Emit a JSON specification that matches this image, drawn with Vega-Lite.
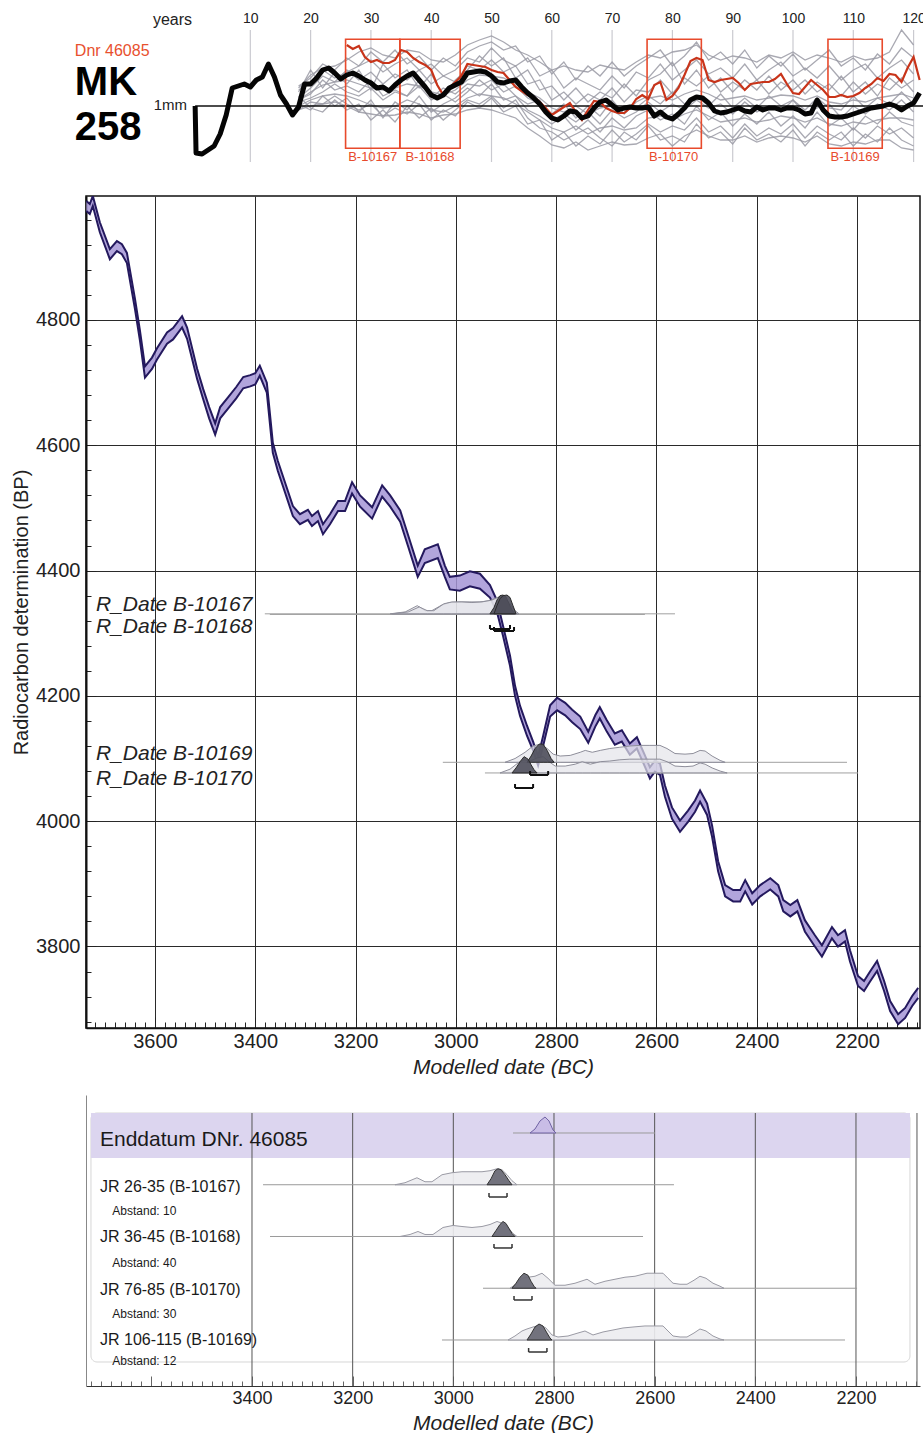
{
"$schema": "https://vega.github.io/schema/vega-lite/v6.json",
"padding": {"left": 10, "top": 11, "right": 0, "bottom": 0},
"spacing": 17,
"background": "white",
"config": {"font": "Liberation Sans", "view": {"stroke": null}},
"datasets": {
"ring": [{"yr":0.85,"b":1.0},
{"yr":1,"b":0.06},{"yr":2,"b":0.04},{"yr":3,"b":0.12},{"yr":4,"b":0.2},{"yr":5,"b":0.44},{"yr":6,"b":0.82},{"yr":7,"b":1.36},{"yr":8,"b":1.4},{"yr":9,"b":1.44},{"yr":10,"b":1.38},{"yr":11,"b":1.52},{"yr":12,"b":1.58},{"yr":13,"b":1.84},{"yr":14,"b":1.58},{"yr":15,"b":1.22},{"yr":16,"b":1.04},{"yr":17,"b":0.82},{"yr":18,"b":0.98},{"yr":19,"b":1.44},{"yr":20,"b":1.44},{"yr":21,"b":1.56},{"yr":22,"b":1.72},{"yr":23,"b":1.76},{"yr":24,"b":1.66},{"yr":25,"b":1.54},
{"yr":26,"b":1.62,"r":2.22},{"yr":27,"b":1.66,"r":2.14},{"yr":28,"b":1.6,"r":2.2},{"yr":29,"b":1.52,"r":1.98},{"yr":30,"b":1.46,"r":1.88},{"yr":31,"b":1.36,"r":1.92},{"yr":32,"b":1.38,"r":1.86},{"yr":33,"b":1.3,"r":1.86},{"yr":34,"b":1.42,"r":1.92},{"yr":35,"b":1.52,"r":2.12},{"yr":36,"b":1.6,"r":2.08},{"yr":37,"b":1.66,"r":1.96},{"yr":38,"b":1.52,"r":1.88},{"yr":39,"b":1.38,"r":1.82},{"yr":40,"b":1.22,"r":1.72},{"yr":41,"b":1.16,"r":1.42},{"yr":42,"b":1.22,"r":1.22},{"yr":43,"b":1.36,"r":1.36},{"yr":44,"b":1.42,"r":1.48},{"yr":45,"b":1.48,"r":1.6},{"yr":46,"b":1.66,"r":1.84},{"yr":47,"b":1.68,"r":1.82},{"yr":48,"b":1.7,"r":1.8},{"yr":49,"b":1.68,"r":1.78},{"yr":50,"b":1.6,"r":1.72},{"yr":51,"b":1.48,"r":1.68},{"yr":52,"b":1.46,"r":1.66},{"yr":53,"b":1.5,"r":1.52},{"yr":54,"b":1.52,"r":1.38},{"yr":55,"b":1.38,"r":1.3},{"yr":56,"b":1.26,"r":1.22},{"yr":57,"b":1.16,"r":1.18},{"yr":58,"b":1.04,"r":1.08},{"yr":59,"b":0.88,"r":0.96},{"yr":60,"b":0.76,"r":0.82},{"yr":61,"b":0.72,"r":0.9},{"yr":62,"b":0.8,"r":0.98},{"yr":63,"b":0.9,"r":1.06},{"yr":64,"b":0.88,"r":0.88},{"yr":65,"b":0.76,"r":0.72},{"yr":66,"b":0.8,"r":0.92},{"yr":67,"b":0.96,"r":1.1},{"yr":68,"b":1.08,"r":1.08},{"yr":69,"b":1.12,"r":0.96},{"yr":70,"b":1.02,"r":0.9},{"yr":71,"b":0.92,"r":0.86},{"yr":72,"b":0.96,"r":0.86},{"yr":73,"b":0.98,"r":0.96},{"yr":74,"b":0.96,"r":1.14},{"yr":75,"b":0.96,"r":1.22},{"yr":76,"b":0.98,"r":1.14},{"yr":77,"b":0.8,"r":1.42},{"yr":78,"b":0.88,"r":1.48},{"yr":79,"b":0.78,"r":1.12},{"yr":80,"b":0.74,"r":1.2},{"yr":81,"b":0.84,"r":1.36},{"yr":82,"b":0.96,"r":1.62},{"yr":83,"b":1.12,"r":1.9},{"yr":84,"b":1.18,"r":1.96},{"yr":85,"b":1.16,"r":1.92},{"yr":86,"b":1.06,"r":1.52},{"yr":87,"b":0.9,"r":1.48},{"yr":88,"b":0.86,"r":1.52},{"yr":89,"b":0.88,"r":1.54},{"yr":90,"b":0.92,"r":1.56},{"yr":91,"b":0.96,"r":1.46},{"yr":92,"b":0.9,"r":1.32},{"yr":93,"b":0.88,"r":1.44},{"yr":94,"b":0.98,"r":1.46},{"yr":95,"b":0.92,"r":1.48},{"yr":96,"b":0.96,"r":1.48},{"yr":97,"b":0.96,"r":1.54},{"yr":98,"b":0.92,"r":1.64},{"yr":99,"b":0.96,"r":1.44},{"yr":100,"b":0.96,"r":1.26},{"yr":101,"b":0.92,"r":1.24},{"yr":102,"b":0.84,"r":1.38},{"yr":103,"b":0.86,"r":1.52},{"yr":104,"b":1.12,"r":1.42},{"yr":105,"b":0.92,"r":1.32},{"yr":106,"b":0.8,"r":1.18},{"yr":107,"b":0.78,"r":1.18},{"yr":108,"b":0.78,"r":1.22},{"yr":109,"b":0.8,"r":1.18},{"yr":110,"b":0.84,"r":1.2},{"yr":111,"b":0.88,"r":1.26},{"yr":112,"b":0.92,"r":1.36},{"yr":113,"b":0.96,"r":1.44},{"yr":114,"b":0.98,"r":1.56},{"yr":115,"b":1.0,"r":1.5},{"yr":116,"b":1.04,"r":1.64},{"yr":117,"b":1.0,"r":1.62},{"yr":118,"b":0.92,"r":1.48},{"yr":119,"b":1.0,"r":1.76},{"yr":120,"b":1.06,"r":1.98},{"yr":121,"b":1.26,"r":1.52}],
"gray": [
{"yr":18,"g1":1.36,"g2":1.32,"g3":1.16,"g4":1.12,"g5":1.08,"g6":1.0,"g7":0.92,"g8":0.92,"g9":1.28,"g10":1.04,"g11":1.2,"g12":1.4,"g13":1.12},
{"yr":20,"g1":1.62,"g2":1.44,"g3":1.36,"g4":1.28,"g5":1.16,"g6":1.12,"g7":1.08,"g8":1.0,"g9":1.72,"g10":0.92,"g11":0.96,"g12":1.56,"g13":1.24},
{"yr":22,"g1":1.76,"g2":1.72,"g3":1.6,"g4":1.42,"g5":1.28,"g6":1.2,"g7":1.04,"g8":1.04,"g9":1.36,"g10":1.2,"g11":0.88,"g12":1.84,"g13":1.52},
{"yr":24,"g1":1.8,"g2":1.56,"g3":1.48,"g4":1.48,"g5":1.44,"g6":1.24,"g7":1.2,"g8":1.08,"g9":1.68,"g10":1.0,"g11":1.12,"g12":1.72,"g13":1.32},
{"yr":26,"g1":1.92,"g2":1.68,"g3":1.72,"g4":1.52,"g5":1.28,"g6":1.2,"g7":1.04,"g8":1.0,"g9":1.44,"g10":1.16,"g11":0.92,"g12":1.96,"g13":1.4},
{"yr":28,"g1":2.08,"g2":1.8,"g3":1.52,"g4":1.44,"g5":1.2,"g6":1.12,"g7":0.92,"g8":0.88,"g9":1.72,"g10":0.88,"g11":1.04,"g12":1.8,"g13":1.28},
{"yr":30,"g1":2.16,"g2":1.92,"g3":1.68,"g4":1.36,"g5":1.36,"g6":1.02,"g7":1.04,"g8":0.84,"g9":1.32,"g10":1.12,"g11":0.72,"g12":2.08,"g13":1.52},
{"yr":32,"g1":2.02,"g2":1.68,"g3":1.44,"g4":1.32,"g5":1.12,"g6":0.96,"g7":0.8,"g8":0.8,"g9":1.84,"g10":0.76,"g11":0.92,"g12":1.88,"g13":1.2},
{"yr":34,"g1":1.96,"g2":1.84,"g3":1.64,"g4":1.36,"g5":1.28,"g6":1.0,"g7":0.96,"g8":0.82,"g9":1.56,"g10":1.08,"g11":0.68,"g12":2.12,"g13":1.32},
{"yr":36,"g1":2.12,"g2":1.96,"g3":1.52,"g4":1.44,"g5":1.2,"g6":1.12,"g7":0.84,"g8":0.88,"g9":1.72,"g10":0.92,"g11":1.0,"g12":1.84,"g13":1.2},
{"yr":38,"g1":2.08,"g2":1.72,"g3":1.72,"g4":1.4,"g5":1.4,"g6":1.04,"g7":1.04,"g8":0.84,"g9":1.36,"g10":1.2,"g11":0.76,"g12":2.0,"g13":1.52},
{"yr":40,"g1":1.92,"g2":1.84,"g3":1.44,"g4":1.28,"g5":1.12,"g6":0.92,"g7":0.72,"g8":0.76,"g9":1.64,"g10":0.88,"g11":0.96,"g12":1.72,"g13":1.16},
{"yr":42,"g1":1.88,"g2":1.6,"g3":1.6,"g4":1.22,"g5":1.24,"g6":0.88,"g7":0.92,"g8":0.82,"g9":1.2,"g10":1.04,"g11":0.72,"g12":1.96,"g13":1.36},
{"yr":44,"g1":2.02,"g2":1.72,"g3":1.48,"g4":1.32,"g5":1.08,"g6":1.0,"g7":0.8,"g8":0.84,"g9":1.52,"g10":1.16,"g11":0.92,"g12":1.8,"g13":1.24},
{"yr":46,"g1":2.22,"g2":1.96,"g3":1.8,"g4":1.52,"g5":1.28,"g6":1.16,"g7":1.08,"g8":0.92,"g9":1.72,"g10":1.36,"g11":1.12,"g12":2.08,"g13":1.44},
{"yr":48,"g1":2.32,"g2":1.88,"g3":1.72,"g4":1.62,"g5":1.52,"g6":1.24,"g7":0.96,"g8":0.96,"g9":2.0,"g10":1.2,"g11":1.04,"g12":2.2,"g13":1.4},
{"yr":50,"g1":2.4,"g2":2.16,"g3":1.92,"g4":1.6,"g5":1.32,"g6":1.2,"g7":1.16,"g8":0.92,"g9":1.8,"g10":1.44,"g11":1.2,"g12":2.28,"g13":1.52},
{"yr":52,"g1":2.28,"g2":1.92,"g3":1.68,"g4":1.56,"g5":1.44,"g6":1.16,"g7":0.88,"g8":0.84,"g9":1.96,"g10":1.12,"g11":0.96,"g12":2.12,"g13":1.28},
{"yr":54,"g1":2.12,"g2":1.8,"g3":1.8,"g4":1.44,"g5":1.2,"g6":1.04,"g7":1.0,"g8":0.76,"g9":1.56,"g10":1.2,"g11":1.12,"g12":2.2,"g13":1.4},
{"yr":56,"g1":2.02,"g2":1.96,"g3":1.44,"g4":1.28,"g5":1.04,"g6":0.88,"g7":0.64,"g8":0.56,"g9":1.72,"g10":0.92,"g11":0.76,"g12":1.88,"g13":1.16},
{"yr":58,"g1":1.88,"g2":1.6,"g3":1.52,"g4":1.16,"g5":1.12,"g6":0.72,"g7":0.72,"g8":0.4,"g9":1.32,"g10":0.8,"g11":0.56,"g12":2.0,"g13":1.04},
{"yr":60,"g1":1.72,"g2":1.72,"g3":1.12,"g4":0.96,"g5":0.72,"g6":0.56,"g7":0.32,"g8":0.22,"g9":1.4,"g10":0.64,"g11":0.48,"g12":1.64,"g13":0.84},
{"yr":62,"g1":1.8,"g2":1.36,"g3":1.28,"g4":0.88,"g5":0.84,"g6":0.48,"g7":0.48,"g8":0.16,"g9":1.12,"g10":0.8,"g11":0.32,"g12":1.88,"g13":1.04},
{"yr":64,"g1":1.72,"g2":1.56,"g3":1.04,"g4":1.0,"g5":0.68,"g6":0.6,"g7":0.2,"g8":0.28,"g9":1.36,"g10":0.52,"g11":0.44,"g12":1.52,"g13":0.76},
{"yr":66,"g1":1.68,"g2":1.44,"g3":1.24,"g4":0.84,"g5":0.88,"g6":0.44,"g7":0.4,"g8":0.12,"g9":1.08,"g10":0.72,"g11":0.56,"g12":1.8,"g13":1.0},
{"yr":68,"g1":1.82,"g2":1.32,"g3":1.12,"g4":0.96,"g5":0.64,"g6":0.56,"g7":0.24,"g8":0.2,"g9":1.28,"g10":0.48,"g11":0.36,"g12":1.6,"g13":0.8},
{"yr":70,"g1":1.76,"g2":1.6,"g3":1.36,"g4":1.0,"g5":0.92,"g6":0.6,"g7":0.52,"g8":0.28,"g9":1.16,"g10":0.76,"g11":0.2,"g12":1.88,"g13":1.12},
{"yr":72,"g1":1.72,"g2":1.36,"g3":1.08,"g4":0.92,"g5":0.76,"g6":0.52,"g7":0.28,"g8":0.22,"g9":1.44,"g10":0.56,"g11":0.48,"g12":1.6,"g13":0.84},
{"yr":74,"g1":1.88,"g2":1.68,"g3":1.32,"g4":0.96,"g5":0.88,"g6":0.56,"g7":0.44,"g8":0.24,"g9":1.2,"g10":0.8,"g11":0.32,"g12":1.8,"g13":1.08},
{"yr":76,"g1":2.02,"g2":1.56,"g3":1.28,"g4":1.16,"g5":1.08,"g6":0.76,"g7":0.64,"g8":0.36,"g9":1.52,"g10":0.92,"g11":0.6,"g12":1.96,"g13":1.2},
{"yr":78,"g1":1.96,"g2":1.84,"g3":1.52,"g4":1.2,"g5":0.88,"g6":0.8,"g7":0.48,"g8":0.44,"g9":1.64,"g10":0.72,"g11":0.32,"g12":2.12,"g13":1.04},
{"yr":80,"g1":2.08,"g2":1.52,"g3":1.24,"g4":1.12,"g5":1.04,"g6":0.72,"g7":0.6,"g8":0.2,"g9":1.88,"g10":0.84,"g11":0.4,"g12":1.8,"g13":1.28},
{"yr":82,"g1":2.12,"g2":1.72,"g3":1.56,"g4":1.24,"g5":0.92,"g6":0.84,"g7":0.52,"g8":0.4,"g9":1.44,"g10":0.64,"g11":0.28,"g12":2.0,"g13":1.04},
{"yr":84,"g1":2.22,"g2":1.92,"g3":1.4,"g4":1.32,"g5":1.12,"g6":0.92,"g7":0.76,"g8":0.52,"g9":1.72,"g10":1.0,"g11":0.64,"g12":2.28,"g13":1.2},
{"yr":86,"g1":2.02,"g2":1.64,"g3":1.6,"g4":1.24,"g5":0.96,"g6":0.8,"g7":0.48,"g8":0.4,"g9":1.36,"g10":0.72,"g11":0.36,"g12":1.92,"g13":1.0},
{"yr":88,"g1":1.92,"g2":1.76,"g3":1.28,"g4":1.12,"g5":1.04,"g6":0.68,"g7":0.6,"g8":0.32,"g9":1.56,"g10":0.88,"g11":0.48,"g12":2.08,"g13":1.24},
{"yr":90,"g1":2.0,"g2":1.56,"g3":1.48,"g4":1.16,"g5":0.84,"g6":0.72,"g7":0.36,"g8":0.32,"g9":1.28,"g10":0.6,"g11":0.24,"g12":1.84,"g13":0.96},
{"yr":92,"g1":1.96,"g2":1.84,"g3":1.32,"g4":1.2,"g5":1.08,"g6":0.76,"g7":0.64,"g8":0.4,"g9":1.52,"g10":0.84,"g11":0.56,"g12":2.12,"g13":1.16},
{"yr":94,"g1":1.88,"g2":1.52,"g3":1.52,"g4":1.12,"g5":0.88,"g6":0.68,"g7":0.4,"g8":0.28,"g9":1.32,"g10":0.64,"g11":0.32,"g12":1.76,"g13":0.96},
{"yr":96,"g1":2.02,"g2":1.72,"g3":1.24,"g4":1.16,"g5":1.0,"g6":0.72,"g7":0.56,"g8":0.36,"g9":1.6,"g10":0.88,"g11":0.44,"g12":2.0,"g13":1.2},
{"yr":98,"g1":1.96,"g2":1.88,"g3":1.48,"g4":1.22,"g5":0.88,"g6":0.8,"g7":0.44,"g8":0.4,"g9":1.32,"g10":0.6,"g11":0.28,"g12":1.8,"g13":1.0},
{"yr":100,"g1":2.08,"g2":1.6,"g3":1.32,"g4":1.2,"g5":1.12,"g6":0.76,"g7":0.64,"g8":0.36,"g9":1.52,"g10":0.8,"g11":0.52,"g12":2.04,"g13":1.12},
{"yr":102,"g1":1.92,"g2":1.76,"g3":1.52,"g4":1.12,"g5":0.84,"g6":0.68,"g7":0.36,"g8":0.28,"g9":1.24,"g10":0.56,"g11":0.2,"g12":1.72,"g13":0.92},
{"yr":104,"g1":2.02,"g2":1.56,"g3":1.28,"g4":1.2,"g5":0.96,"g6":0.76,"g7":0.6,"g8":0.4,"g9":1.48,"g10":0.88,"g11":0.48,"g12":1.92,"g13":1.16},
{"yr":106,"g1":1.96,"g2":1.8,"g3":1.44,"g4":1.08,"g5":1.04,"g6":0.64,"g7":0.44,"g8":0.24,"g9":1.32,"g10":0.6,"g11":0.32,"g12":2.12,"g13":0.96},
{"yr":108,"g1":1.88,"g2":1.52,"g3":1.2,"g4":1.04,"g5":0.76,"g6":0.6,"g7":0.32,"g8":0.2,"g9":1.6,"g10":0.76,"g11":0.48,"g12":1.8,"g13":0.92},
{"yr":110,"g1":2.0,"g2":1.72,"g3":1.48,"g4":1.12,"g5":1.0,"g6":0.68,"g7":0.56,"g8":0.28,"g9":1.28,"g10":0.52,"g11":0.2,"g12":1.96,"g13":1.2},
{"yr":112,"g1":1.92,"g2":1.84,"g3":1.24,"g4":1.08,"g5":0.84,"g6":0.64,"g7":0.36,"g8":0.24,"g9":1.48,"g10":0.8,"g11":0.44,"g12":1.72,"g13":0.96},
{"yr":114,"g1":1.96,"g2":1.56,"g3":1.44,"g4":1.16,"g5":1.04,"g6":0.72,"g7":0.6,"g8":0.32,"g9":1.2,"g10":0.64,"g11":0.28,"g12":2.04,"g13":1.16},
{"yr":116,"g1":2.08,"g2":1.76,"g3":1.32,"g4":1.2,"g5":0.92,"g6":0.76,"g7":0.44,"g8":0.32,"g9":1.56,"g10":0.88,"g11":0.56,"g12":1.84,"g13":1.04},
{"yr":118,"g1":2.52,"g2":1.92,"g3":1.56,"g4":1.24,"g5":1.12,"g6":0.76,"g7":0.56,"g8":0.16,"g9":1.36,"g10":0.68,"g11":0.32,"g12":2.16,"g13":1.28},
{"yr":120,"g1":2.22,"g2":1.64,"g3":1.28,"g4":1.16,"g5":0.88,"g6":0.72,"g7":0.36,"g8":0.12,"g9":1.52,"g10":0.6,"g11":0.2,"g12":1.96,"g13":1.04}],
"band": [
{"yr":3737,"lo":4974,"hi":4990},{"yr":3730,"lo":4969,"hi":4985},{"yr":3724,"lo":4982,"hi":4998},{"yr":3710,"lo":4940,"hi":4956},{"yr":3690,"lo":4897,"hi":4913},{"yr":3676,"lo":4910,"hi":4926},{"yr":3666,"lo":4905,"hi":4921},{"yr":3656,"lo":4891,"hi":4907},{"yr":3640,"lo":4818,"hi":4834},{"yr":3630,"lo":4767,"hi":4783},{"yr":3620,"lo":4708,"hi":4726},{"yr":3606,"lo":4722,"hi":4740},{"yr":3596,"lo":4737,"hi":4755},{"yr":3576,"lo":4762,"hi":4780},{"yr":3564,"lo":4769,"hi":4787},{"yr":3546,"lo":4788,"hi":4806},{"yr":3536,"lo":4770,"hi":4788},{"yr":3516,"lo":4706,"hi":4722},{"yr":3504,"lo":4674,"hi":4690},{"yr":3492,"lo":4643,"hi":4661},{"yr":3480,"lo":4617,"hi":4635},{"yr":3470,"lo":4643,"hi":4661},{"yr":3454,"lo":4659,"hi":4677},{"yr":3438,"lo":4675,"hi":4693},{"yr":3424,"lo":4691,"hi":4709},{"yr":3410,"lo":4694,"hi":4712},{"yr":3400,"lo":4697,"hi":4715},{"yr":3391,"lo":4711,"hi":4727},{"yr":3377,"lo":4684,"hi":4700},{"yr":3365,"lo":4588,"hi":4604},{"yr":3355,"lo":4559,"hi":4575},{"yr":3345,"lo":4535,"hi":4551},{"yr":3325,"lo":4487,"hi":4503},{"yr":3311,"lo":4474,"hi":4490},{"yr":3295,"lo":4481,"hi":4497},{"yr":3287,"lo":4471,"hi":4487},{"yr":3275,"lo":4479,"hi":4495},{"yr":3265,"lo":4458,"hi":4474},{"yr":3251,"lo":4474,"hi":4490},{"yr":3235,"lo":4495,"hi":4511},{"yr":3221,"lo":4495,"hi":4511},{"yr":3207,"lo":4523,"hi":4541},{"yr":3191,"lo":4502,"hi":4520},{"yr":3167,"lo":4483,"hi":4501},{"yr":3147,"lo":4518,"hi":4536},{"yr":3131,"lo":4502,"hi":4520},{"yr":3111,"lo":4478,"hi":4496},{"yr":3095,"lo":4438,"hi":4456},{"yr":3076,"lo":4390,"hi":4408},{"yr":3062,"lo":4412,"hi":4434},{"yr":3036,"lo":4420,"hi":4442},{"yr":3022,"lo":4390,"hi":4408},{"yr":3012,"lo":4370,"hi":4390},{"yr":2992,"lo":4368,"hi":4392},{"yr":2972,"lo":4375,"hi":4399},{"yr":2952,"lo":4371,"hi":4395},{"yr":2932,"lo":4357,"hi":4377},{"yr":2918,"lo":4334,"hi":4352},{"yr":2906,"lo":4296,"hi":4312},{"yr":2892,"lo":4248,"hi":4264},{"yr":2882,"lo":4200,"hi":4216},{"yr":2872,"lo":4168,"hi":4184},{"yr":2858,"lo":4136,"hi":4152},{"yr":2846,"lo":4113,"hi":4127},{"yr":2836,"lo":4089,"hi":4103},{"yr":2826,"lo":4120,"hi":4136},{"yr":2812,"lo":4167,"hi":4185},{"yr":2798,"lo":4177,"hi":4197},{"yr":2782,"lo":4169,"hi":4189},{"yr":2768,"lo":4158,"hi":4178},{"yr":2752,"lo":4147,"hi":4167},{"yr":2736,"lo":4125,"hi":4143},{"yr":2722,"lo":4151,"hi":4169},{"yr":2713,"lo":4164,"hi":4182},{"yr":2699,"lo":4143,"hi":4161},{"yr":2683,"lo":4122,"hi":4140},{"yr":2669,"lo":4127,"hi":4145},{"yr":2653,"lo":4106,"hi":4124},{"yr":2639,"lo":4116,"hi":4134},{"yr":2623,"lo":4087,"hi":4105},{"yr":2613,"lo":4068,"hi":4086},{"yr":2603,"lo":4079,"hi":4097},{"yr":2593,"lo":4074,"hi":4092},{"yr":2583,"lo":4039,"hi":4057},{"yr":2569,"lo":4004,"hi":4022},{"yr":2553,"lo":3983,"hi":4001},{"yr":2537,"lo":3999,"hi":4017},{"yr":2523,"lo":4015,"hi":4033},{"yr":2513,"lo":4031,"hi":4049},{"yr":2499,"lo":4010,"hi":4028},{"yr":2489,"lo":3975,"hi":3993},{"yr":2477,"lo":3920,"hi":3936},{"yr":2463,"lo":3880,"hi":3898},{"yr":2447,"lo":3872,"hi":3890},{"yr":2433,"lo":3872,"hi":3890},{"yr":2423,"lo":3888,"hi":3906},{"yr":2409,"lo":3867,"hi":3885},{"yr":2393,"lo":3880,"hi":3898},{"yr":2373,"lo":3891,"hi":3909},{"yr":2357,"lo":3880,"hi":3898},{"yr":2347,"lo":3856,"hi":3874},{"yr":2333,"lo":3848,"hi":3866},{"yr":2319,"lo":3856,"hi":3874},{"yr":2304,"lo":3824,"hi":3842},{"yr":2284,"lo":3800,"hi":3818},{"yr":2270,"lo":3784,"hi":3802},{"yr":2250,"lo":3813,"hi":3831},{"yr":2238,"lo":3800,"hi":3818},{"yr":2224,"lo":3808,"hi":3826},{"yr":2214,"lo":3776,"hi":3794},{"yr":2198,"lo":3737,"hi":3753},{"yr":2186,"lo":3729,"hi":3745},{"yr":2174,"lo":3744,"hi":3760},{"yr":2160,"lo":3761,"hi":3777},{"yr":2146,"lo":3729,"hi":3745},{"yr":2134,"lo":3697,"hi":3713},{"yr":2118,"lo":3676,"hi":3692},{"yr":2104,"lo":3686,"hi":3702},{"yr":2090,"lo":3705,"hi":3721},{"yr":2078,"lo":3718,"hi":3734}],
"mdist": [
{"id":"L67","k":"L","yr":3131,"hi":4331,"lo":4331},{"id":"L67","k":"L","yr":3101,"hi":4334,"lo":4331},{"id":"L67","k":"L","yr":3077,"hi":4344,"lo":4331},{"id":"L67","k":"L","yr":3061,"hi":4336,"lo":4331},{"id":"L67","k":"L","yr":3048,"hi":4336,"lo":4331},{"id":"L67","k":"L","yr":3028,"hi":4345,"lo":4331},{"id":"L67","k":"L","yr":3012,"hi":4349,"lo":4331},{"id":"L67","k":"L","yr":2992,"hi":4350,"lo":4331},{"id":"L67","k":"L","yr":2972,"hi":4350,"lo":4331},{"id":"L67","k":"L","yr":2952,"hi":4350,"lo":4331},{"id":"L67","k":"L","yr":2932,"hi":4352,"lo":4331},{"id":"L67","k":"L","yr":2918,"hi":4357,"lo":4331},{"id":"L67","k":"L","yr":2906,"hi":4358,"lo":4331},{"id":"L67","k":"L","yr":2896,"hi":4350,"lo":4331},{"id":"L67","k":"L","yr":2886,"hi":4337,"lo":4331},{"id":"L67","k":"L","yr":2876,"hi":4331,"lo":4331},
{"id":"L68","k":"L","yr":3127,"hi":4331,"lo":4331},{"id":"L68","k":"L","yr":3095,"hi":4334,"lo":4331},{"id":"L68","k":"L","yr":3073,"hi":4342,"lo":4331},{"id":"L68","k":"L","yr":3057,"hi":4336,"lo":4331},{"id":"L68","k":"L","yr":3044,"hi":4336,"lo":4331},{"id":"L68","k":"L","yr":3024,"hi":4347,"lo":4331},{"id":"L68","k":"L","yr":3008,"hi":4350,"lo":4331},{"id":"L68","k":"L","yr":2988,"hi":4350,"lo":4331},{"id":"L68","k":"L","yr":2968,"hi":4349,"lo":4331},{"id":"L68","k":"L","yr":2948,"hi":4350,"lo":4331},{"id":"L68","k":"L","yr":2928,"hi":4353,"lo":4331},{"id":"L68","k":"L","yr":2914,"hi":4358,"lo":4331},{"id":"L68","k":"L","yr":2904,"hi":4357,"lo":4331},{"id":"L68","k":"L","yr":2892,"hi":4347,"lo":4331},{"id":"L68","k":"L","yr":2882,"hi":4336,"lo":4331},{"id":"L68","k":"L","yr":2874,"hi":4331,"lo":4331},
{"id":"L69","k":"L","yr":2902,"hi":4094,"lo":4094},{"id":"L69","k":"L","yr":2882,"hi":4100,"lo":4094},{"id":"L69","k":"L","yr":2862,"hi":4110,"lo":4094},{"id":"L69","k":"L","yr":2846,"hi":4120,"lo":4094},{"id":"L69","k":"L","yr":2832,"hi":4123,"lo":4094},{"id":"L69","k":"L","yr":2818,"hi":4116,"lo":4094},{"id":"L69","k":"L","yr":2806,"hi":4107,"lo":4094},{"id":"L69","k":"L","yr":2792,"hi":4104,"lo":4094},{"id":"L69","k":"L","yr":2772,"hi":4105,"lo":4094},{"id":"L69","k":"L","yr":2752,"hi":4110,"lo":4094},{"id":"L69","k":"L","yr":2742,"hi":4113,"lo":4094},{"id":"L69","k":"L","yr":2728,"hi":4110,"lo":4094},{"id":"L69","k":"L","yr":2712,"hi":4113,"lo":4094},{"id":"L69","k":"L","yr":2693,"hi":4116,"lo":4094},{"id":"L69","k":"L","yr":2673,"hi":4118,"lo":4094},{"id":"L69","k":"L","yr":2653,"hi":4120,"lo":4094},{"id":"L69","k":"L","yr":2633,"hi":4121,"lo":4094},{"id":"L69","k":"L","yr":2613,"hi":4121,"lo":4094},{"id":"L69","k":"L","yr":2593,"hi":4121,"lo":4094},{"id":"L69","k":"L","yr":2579,"hi":4116,"lo":4094},{"id":"L69","k":"L","yr":2563,"hi":4108,"lo":4094},{"id":"L69","k":"L","yr":2543,"hi":4107,"lo":4094},{"id":"L69","k":"L","yr":2527,"hi":4108,"lo":4094},{"id":"L69","k":"L","yr":2513,"hi":4113,"lo":4094},{"id":"L69","k":"L","yr":2503,"hi":4112,"lo":4094},{"id":"L69","k":"L","yr":2489,"hi":4104,"lo":4094},{"id":"L69","k":"L","yr":2473,"hi":4097,"lo":4094},{"id":"L69","k":"L","yr":2463,"hi":4094,"lo":4094},
{"id":"L70","k":"L","yr":2912,"hi":4077,"lo":4077},{"id":"L70","k":"L","yr":2892,"hi":4083,"lo":4077},{"id":"L70","k":"L","yr":2876,"hi":4093,"lo":4077},{"id":"L70","k":"L","yr":2864,"hi":4098,"lo":4077},{"id":"L70","k":"L","yr":2852,"hi":4096,"lo":4077},{"id":"L70","k":"L","yr":2838,"hi":4101,"lo":4077},{"id":"L70","k":"L","yr":2826,"hi":4103,"lo":4077},{"id":"L70","k":"L","yr":2814,"hi":4095,"lo":4077},{"id":"L70","k":"L","yr":2802,"hi":4088,"lo":4077},{"id":"L70","k":"L","yr":2782,"hi":4088,"lo":4077},{"id":"L70","k":"L","yr":2762,"hi":4091,"lo":4077},{"id":"L70","k":"L","yr":2748,"hi":4095,"lo":4077},{"id":"L70","k":"L","yr":2732,"hi":4091,"lo":4077},{"id":"L70","k":"L","yr":2712,"hi":4095,"lo":4077},{"id":"L70","k":"L","yr":2693,"hi":4096,"lo":4077},{"id":"L70","k":"L","yr":2673,"hi":4098,"lo":4077},{"id":"L70","k":"L","yr":2653,"hi":4099,"lo":4077},{"id":"L70","k":"L","yr":2633,"hi":4099,"lo":4077},{"id":"L70","k":"L","yr":2613,"hi":4099,"lo":4077},{"id":"L70","k":"L","yr":2593,"hi":4099,"lo":4077},{"id":"L70","k":"L","yr":2579,"hi":4095,"lo":4077},{"id":"L70","k":"L","yr":2563,"hi":4088,"lo":4077},{"id":"L70","k":"L","yr":2543,"hi":4087,"lo":4077},{"id":"L70","k":"L","yr":2527,"hi":4088,"lo":4077},{"id":"L70","k":"L","yr":2513,"hi":4093,"lo":4077},{"id":"L70","k":"L","yr":2503,"hi":4091,"lo":4077},{"id":"L70","k":"L","yr":2489,"hi":4085,"lo":4077},{"id":"L70","k":"L","yr":2473,"hi":4080,"lo":4077},{"id":"L70","k":"L","yr":2459,"hi":4077,"lo":4077},
{"id":"D67","k":"D","yr":2932,"hi":4331,"lo":4331},{"id":"D67","k":"D","yr":2924,"hi":4341,"lo":4331},{"id":"D67","k":"D","yr":2918,"hi":4353,"lo":4331},{"id":"D67","k":"D","yr":2912,"hi":4360,"lo":4331},{"id":"D67","k":"D","yr":2906,"hi":4361,"lo":4331},{"id":"D67","k":"D","yr":2900,"hi":4358,"lo":4331},{"id":"D67","k":"D","yr":2894,"hi":4347,"lo":4331},{"id":"D67","k":"D","yr":2888,"hi":4337,"lo":4331},{"id":"D67","k":"D","yr":2882,"hi":4331,"lo":4331},
{"id":"D68","k":"D","yr":2924,"hi":4331,"lo":4331},{"id":"D68","k":"D","yr":2918,"hi":4344,"lo":4331},{"id":"D68","k":"D","yr":2912,"hi":4355,"lo":4331},{"id":"D68","k":"D","yr":2906,"hi":4360,"lo":4331},{"id":"D68","k":"D","yr":2898,"hi":4361,"lo":4331},{"id":"D68","k":"D","yr":2892,"hi":4357,"lo":4331},{"id":"D68","k":"D","yr":2886,"hi":4344,"lo":4331},{"id":"D68","k":"D","yr":2880,"hi":4331,"lo":4331},
{"id":"D69","k":"D","yr":2858,"hi":4094,"lo":4094},{"id":"D69","k":"D","yr":2850,"hi":4104,"lo":4094},{"id":"D69","k":"D","yr":2842,"hi":4116,"lo":4094},{"id":"D69","k":"D","yr":2834,"hi":4123,"lo":4094},{"id":"D69","k":"D","yr":2826,"hi":4123,"lo":4094},{"id":"D69","k":"D","yr":2818,"hi":4113,"lo":4094},{"id":"D69","k":"D","yr":2810,"hi":4100,"lo":4094},{"id":"D69","k":"D","yr":2804,"hi":4094,"lo":4094},
{"id":"D70","k":"D","yr":2888,"hi":4077,"lo":4077},{"id":"D70","k":"D","yr":2880,"hi":4085,"lo":4077},{"id":"D70","k":"D","yr":2872,"hi":4095,"lo":4077},{"id":"D70","k":"D","yr":2864,"hi":4103,"lo":4077},{"id":"D70","k":"D","yr":2856,"hi":4099,"lo":4077},{"id":"D70","k":"D","yr":2850,"hi":4090,"lo":4077},{"id":"D70","k":"D","yr":2844,"hi":4082,"lo":4077},{"id":"D70","k":"D","yr":2838,"hi":4077,"lo":4077}],
"mbase": [{"yr":3381,"yr2":2563,"bp":4331},{"yr":3371,"yr2":2623,"bp":4330},{"yr":3026,"yr2":2220,"bp":4094},{"yr":2942,"yr2":2198,"bp":4077}],
"mbrk": [{"yr":2932,"yr2":2892,"bp":4306.8,"bp2":4306.8},{"yr":2932,"yr2":2932,"bp":4306.8,"bp2":4313.2},{"yr":2892,"yr2":2892,"bp":4306.8,"bp2":4313.2},
{"yr":2924,"yr2":2884,"bp":4303.6,"bp2":4303.6},{"yr":2924,"yr2":2924,"bp":4303.6,"bp2":4310},{"yr":2884,"yr2":2884,"bp":4303.6,"bp2":4310},
{"yr":2852,"yr2":2816,"bp":4073.7,"bp2":4073.7},{"yr":2852,"yr2":2852,"bp":4073.7,"bp2":4080.1},{"yr":2816,"yr2":2816,"bp":4073.7,"bp2":4080.1},
{"yr":2882,"yr2":2846,"bp":4053,"bp2":4053},{"yr":2882,"yr2":2882,"bp":4053,"bp2":4059.4},{"yr":2846,"yr2":2846,"bp":4053,"bp2":4059.4}],
"bdist": [
{"id":"E","k":"E","yr":2847.6,"hi":0,"lo":0},{"id":"E","k":"E","yr":2837.7,"hi":0.077,"lo":0},{"id":"E","k":"E","yr":2827.8,"hi":0.232,"lo":0},{"id":"E","k":"E","yr":2817.8,"hi":0.309,"lo":0},{"id":"E","k":"E","yr":2809.9,"hi":0.232,"lo":0},{"id":"E","k":"E","yr":2802,"hi":0.058,"lo":0},{"id":"E","k":"E","yr":2796,"hi":0,"lo":0},
{"id":"L1","k":"L","yr":3115.9,"hi":-1,"lo":-1},{"id":"L1","k":"L","yr":3096,"hi":-0.961,"lo":-1},{"id":"L1","k":"L","yr":3072.2,"hi":-0.865,"lo":-1},{"id":"L1","k":"L","yr":3056.3,"hi":-0.942,"lo":-1},{"id":"L1","k":"L","yr":3042.4,"hi":-0.942,"lo":-1},{"id":"L1","k":"L","yr":3022.5,"hi":-0.807,"lo":-1},{"id":"L1","k":"L","yr":3002.6,"hi":-0.768,"lo":-1},{"id":"L1","k":"L","yr":2982.8,"hi":-0.749,"lo":-1},{"id":"L1","k":"L","yr":2962.9,"hi":-0.749,"lo":-1},{"id":"L1","k":"L","yr":2943,"hi":-0.749,"lo":-1},{"id":"L1","k":"L","yr":2927.1,"hi":-0.729,"lo":-1},{"id":"L1","k":"L","yr":2913.2,"hi":-0.691,"lo":-1},{"id":"L1","k":"L","yr":2903.3,"hi":-0.71,"lo":-1},{"id":"L1","k":"L","yr":2893.3,"hi":-0.807,"lo":-1},{"id":"L1","k":"L","yr":2883.4,"hi":-0.923,"lo":-1},{"id":"L1","k":"L","yr":2873.5,"hi":-1,"lo":-1},
{"id":"L2","k":"L","yr":3105.9,"hi":-2,"lo":-2},{"id":"L2","k":"L","yr":3086,"hi":-1.961,"lo":-2},{"id":"L2","k":"L","yr":3070.2,"hi":-1.903,"lo":-2},{"id":"L2","k":"L","yr":3056.3,"hi":-1.961,"lo":-2},{"id":"L2","k":"L","yr":3040.4,"hi":-1.961,"lo":-2},{"id":"L2","k":"L","yr":3020.5,"hi":-1.826,"lo":-2},{"id":"L2","k":"L","yr":3000.6,"hi":-1.787,"lo":-2},{"id":"L2","k":"L","yr":2982.8,"hi":-1.807,"lo":-2},{"id":"L2","k":"L","yr":2962.9,"hi":-1.826,"lo":-2},{"id":"L2","k":"L","yr":2943,"hi":-1.807,"lo":-2},{"id":"L2","k":"L","yr":2927.1,"hi":-1.768,"lo":-2},{"id":"L2","k":"L","yr":2913.2,"hi":-1.71,"lo":-2},{"id":"L2","k":"L","yr":2901.3,"hi":-1.749,"lo":-2},{"id":"L2","k":"L","yr":2891.3,"hi":-1.826,"lo":-2},{"id":"L2","k":"L","yr":2881.4,"hi":-1.942,"lo":-2},{"id":"L2","k":"L","yr":2873.5,"hi":-2,"lo":-2},
{"id":"L3","k":"L","yr":2887.4,"hi":-3,"lo":-3},{"id":"L3","k":"L","yr":2875.5,"hi":-2.923,"lo":-3},{"id":"L3","k":"L","yr":2863.6,"hi":-2.807,"lo":-3},{"id":"L3","k":"L","yr":2851.6,"hi":-2.787,"lo":-3},{"id":"L3","k":"L","yr":2837.7,"hi":-2.768,"lo":-3},{"id":"L3","k":"L","yr":2823.8,"hi":-2.71,"lo":-3},{"id":"L3","k":"L","yr":2811.9,"hi":-2.807,"lo":-3},{"id":"L3","k":"L","yr":2798,"hi":-2.942,"lo":-3},{"id":"L3","k":"L","yr":2778.1,"hi":-2.942,"lo":-3},{"id":"L3","k":"L","yr":2758.2,"hi":-2.903,"lo":-3},{"id":"L3","k":"L","yr":2734.4,"hi":-2.826,"lo":-3},{"id":"L3","k":"L","yr":2718.5,"hi":-2.923,"lo":-3},{"id":"L3","k":"L","yr":2698.6,"hi":-2.865,"lo":-3},{"id":"L3","k":"L","yr":2678.8,"hi":-2.826,"lo":-3},{"id":"L3","k":"L","yr":2658.9,"hi":-2.787,"lo":-3},{"id":"L3","k":"L","yr":2639,"hi":-2.768,"lo":-3},{"id":"L3","k":"L","yr":2615.2,"hi":-2.71,"lo":-3},{"id":"L3","k":"L","yr":2599.3,"hi":-2.71,"lo":-3},{"id":"L3","k":"L","yr":2583.4,"hi":-2.71,"lo":-3},{"id":"L3","k":"L","yr":2573.5,"hi":-2.807,"lo":-3},{"id":"L3","k":"L","yr":2563.5,"hi":-2.903,"lo":-3},{"id":"L3","k":"L","yr":2549.6,"hi":-2.923,"lo":-3},{"id":"L3","k":"L","yr":2535.7,"hi":-2.923,"lo":-3},{"id":"L3","k":"L","yr":2521.8,"hi":-2.845,"lo":-3},{"id":"L3","k":"L","yr":2509.9,"hi":-2.768,"lo":-3},{"id":"L3","k":"L","yr":2498,"hi":-2.807,"lo":-3},{"id":"L3","k":"L","yr":2484.1,"hi":-2.903,"lo":-3},{"id":"L3","k":"L","yr":2470.1,"hi":-2.961,"lo":-3},{"id":"L3","k":"L","yr":2462.2,"hi":-3,"lo":-3},
{"id":"L4","k":"L","yr":2891.3,"hi":-4,"lo":-4},{"id":"L4","k":"L","yr":2877.5,"hi":-3.923,"lo":-4},{"id":"L4","k":"L","yr":2863.6,"hi":-3.826,"lo":-4},{"id":"L4","k":"L","yr":2853.6,"hi":-3.787,"lo":-4},{"id":"L4","k":"L","yr":2841.7,"hi":-3.749,"lo":-4},{"id":"L4","k":"L","yr":2827.8,"hi":-3.71,"lo":-4},{"id":"L4","k":"L","yr":2815.9,"hi":-3.768,"lo":-4},{"id":"L4","k":"L","yr":2804,"hi":-3.903,"lo":-4},{"id":"L4","k":"L","yr":2792.1,"hi":-3.942,"lo":-4},{"id":"L4","k":"L","yr":2772.2,"hi":-3.923,"lo":-4},{"id":"L4","k":"L","yr":2752.3,"hi":-3.865,"lo":-4},{"id":"L4","k":"L","yr":2738.4,"hi":-3.826,"lo":-4},{"id":"L4","k":"L","yr":2722.5,"hi":-3.903,"lo":-4},{"id":"L4","k":"L","yr":2702.6,"hi":-3.845,"lo":-4},{"id":"L4","k":"L","yr":2682.8,"hi":-3.807,"lo":-4},{"id":"L4","k":"L","yr":2662.9,"hi":-3.768,"lo":-4},{"id":"L4","k":"L","yr":2643,"hi":-3.749,"lo":-4},{"id":"L4","k":"L","yr":2619.2,"hi":-3.729,"lo":-4},{"id":"L4","k":"L","yr":2599.3,"hi":-3.729,"lo":-4},{"id":"L4","k":"L","yr":2583.4,"hi":-3.729,"lo":-4},{"id":"L4","k":"L","yr":2573.5,"hi":-3.826,"lo":-4},{"id":"L4","k":"L","yr":2563.5,"hi":-3.923,"lo":-4},{"id":"L4","k":"L","yr":2549.6,"hi":-3.942,"lo":-4},{"id":"L4","k":"L","yr":2535.7,"hi":-3.942,"lo":-4},{"id":"L4","k":"L","yr":2521.8,"hi":-3.865,"lo":-4},{"id":"L4","k":"L","yr":2509.9,"hi":-3.787,"lo":-4},{"id":"L4","k":"L","yr":2498,"hi":-3.826,"lo":-4},{"id":"L4","k":"L","yr":2484.1,"hi":-3.923,"lo":-4},{"id":"L4","k":"L","yr":2470.1,"hi":-3.981,"lo":-4},{"id":"L4","k":"L","yr":2462.2,"hi":-4,"lo":-4},
{"id":"D1","k":"D","yr":2933,"hi":-1,"lo":-1},{"id":"D1","k":"D","yr":2925.1,"hi":-0.884,"lo":-1},{"id":"D1","k":"D","yr":2917.2,"hi":-0.729,"lo":-1},{"id":"D1","k":"D","yr":2911.2,"hi":-0.691,"lo":-1},{"id":"D1","k":"D","yr":2905.3,"hi":-0.71,"lo":-1},{"id":"D1","k":"D","yr":2897.3,"hi":-0.807,"lo":-1},{"id":"D1","k":"D","yr":2889.4,"hi":-0.923,"lo":-1},{"id":"D1","k":"D","yr":2883.4,"hi":-1,"lo":-1},
{"id":"D2","k":"D","yr":2923.2,"hi":-2,"lo":-2},{"id":"D2","k":"D","yr":2915.2,"hi":-1.884,"lo":-2},{"id":"D2","k":"D","yr":2907.3,"hi":-1.768,"lo":-2},{"id":"D2","k":"D","yr":2901.3,"hi":-1.71,"lo":-2},{"id":"D2","k":"D","yr":2895.3,"hi":-1.749,"lo":-2},{"id":"D2","k":"D","yr":2889.4,"hi":-1.845,"lo":-2},{"id":"D2","k":"D","yr":2883.4,"hi":-1.942,"lo":-2},{"id":"D2","k":"D","yr":2877.5,"hi":-2,"lo":-2},
{"id":"D3","k":"D","yr":2883.4,"hi":-3,"lo":-3},{"id":"D3","k":"D","yr":2875.5,"hi":-2.903,"lo":-3},{"id":"D3","k":"D","yr":2867.6,"hi":-2.787,"lo":-3},{"id":"D3","k":"D","yr":2859.6,"hi":-2.71,"lo":-3},{"id":"D3","k":"D","yr":2851.6,"hi":-2.749,"lo":-3},{"id":"D3","k":"D","yr":2845.7,"hi":-2.865,"lo":-3},{"id":"D3","k":"D","yr":2839.7,"hi":-2.961,"lo":-3},{"id":"D3","k":"D","yr":2835.7,"hi":-3,"lo":-3},
{"id":"D4","k":"D","yr":2853.6,"hi":-4,"lo":-4},{"id":"D4","k":"D","yr":2845.7,"hi":-3.884,"lo":-4},{"id":"D4","k":"D","yr":2837.7,"hi":-3.749,"lo":-4},{"id":"D4","k":"D","yr":2829.8,"hi":-3.691,"lo":-4},{"id":"D4","k":"D","yr":2821.9,"hi":-3.729,"lo":-4},{"id":"D4","k":"D","yr":2813.9,"hi":-3.865,"lo":-4},{"id":"D4","k":"D","yr":2808,"hi":-3.961,"lo":-4},{"id":"D4","k":"D","yr":2804,"hi":-4,"lo":-4}],
"bbase": [{"yr":2881.4,"yr2":2599.3,"row":0},{"yr":3378.1,"yr2":2561.6,"row":-1},{"yr":3364.2,"yr2":2623.1,"row":-2},{"yr":2941,"yr2":2197.9,"row":-3},{"yr":3022.5,"yr2":2221.8,"row":-4}],
"bbrk": [{"yr":2929.1,"yr2":2893.3,"row":-1.237,"row2":-1.237},{"yr":2929.1,"yr2":2929.1,"row":-1.237,"row2":-1.16},{"yr":2893.3,"yr2":2893.3,"row":-1.237,"row2":-1.16},
{"yr":2919.2,"yr2":2883.4,"row":-2.222,"row2":-2.222},{"yr":2919.2,"yr2":2919.2,"row":-2.222,"row2":-2.145},{"yr":2883.4,"yr2":2883.4,"row":-2.222,"row2":-2.145},
{"yr":2879.4,"yr2":2843.7,"row":-3.227,"row2":-3.227},{"yr":2879.4,"yr2":2879.4,"row":-3.227,"row2":-3.15},{"yr":2843.7,"yr2":2843.7,"row":-3.227,"row2":-3.15},
{"yr":2850.4,"yr2":2814.0,"row":-4.232,"row2":-4.232},{"yr":2850.4,"yr2":2850.4,"row":-4.232,"row2":-4.155},{"yr":2814.0,"yr2":2814.0,"row":-4.232,"row2":-4.155}]
},
"vconcat": [
{
"width": 837, "height": 150,
"layer": [
{"data": {"values": [{"yr":10},{"yr":20},{"yr":30},{"yr":40},{"yr":50},{"yr":60},{"yr":70},{"yr":80},{"yr":90},{"yr":100},{"yr":110},{"yr":120}]},
 "mark": {"type": "rule", "color": "#cacad0", "strokeWidth": 1.2},
 "encoding": {
  "x": {"field": "yr", "type": "quantitative", "scale": {"domain": [-17.25, 121.56], "nice": false, "zero": false},
        "axis": {"orient": "top", "values": [10,20,30,40,50,60,70,80,90,100,110,120], "ticks": false, "domain": false, "grid": false, "labelFontSize": 14, "labelPadding": 3, "labelColor": "#222", "title": null, "labelFlush": false}},
  "y": {"datum": 2.52, "type": "quantitative", "scale": {"domain": [-0.44, 2.56], "nice": false, "zero": false}, "axis": null},
  "y2": {"datum": -0.12}}},
{"data": {"name": "gray"},
 "transform": [{"fold": ["g1","g2","g3","g4","g5","g6","g7","g8","g9","g10","g11","g12","g13"], "as": ["s", "v"]}],
 "mark": {"type": "line", "color": "#9a9aa4", "strokeWidth": 1.3, "opacity": 0.85, "clip": true},
 "encoding": {
  "x": {"field": "yr", "type": "quantitative", "scale": {"domain": [-17.25, 121.56], "nice": false, "zero": false}},
  "y": {"field": "v", "type": "quantitative", "scale": {"domain": [-0.44, 2.56], "nice": false, "zero": false}},
  "detail": {"field": "s"}}},
{"data": {"values": [{"yr": 0.85, "yr2": 121.56, "v": 1.0}]},
 "mark": {"type": "rule", "color": "#111", "strokeWidth": 1.5},
 "encoding": {
  "x": {"field": "yr", "type": "quantitative", "scale": {"domain": [-17.25, 121.56], "nice": false, "zero": false}},
  "x2": {"field": "yr2"},
  "y": {"field": "v", "type": "quantitative", "scale": {"domain": [-0.44, 2.56], "nice": false, "zero": false}}}},
{"data": {"values": [{"yr":25.8,"yr2":34.8},{"yr":34.8,"yr2":44.8},{"yr":75.8,"yr2":84.8},{"yr":105.8,"yr2":114.8}]},
 "mark": {"type": "rect", "fill": "transparent", "stroke": "#e84a2c", "strokeWidth": 1.6},
 "encoding": {
  "x": {"field": "yr", "type": "quantitative", "scale": {"domain": [-17.25, 121.56], "nice": false, "zero": false}},
  "x2": {"field": "yr2"},
  "y": {"datum": 2.334, "type": "quantitative", "scale": {"domain": [-0.44, 2.56], "nice": false, "zero": false}},
  "y2": {"datum": 0.154}}},
{"data": {"name": "ring"},
 "mark": {"type": "line", "color": "#c8341a", "strokeWidth": 2.2, "clip": true},
 "encoding": {
  "x": {"field": "yr", "type": "quantitative", "scale": {"domain": [-17.25, 121.56], "nice": false, "zero": false}},
  "y": {"field": "r", "type": "quantitative", "scale": {"domain": [-0.44, 2.56], "nice": false, "zero": false}}}},
{"data": {"name": "ring"},
 "mark": {"type": "line", "color": "#050505", "strokeWidth": 5, "strokeJoin": "round", "clip": true},
 "encoding": {
  "x": {"field": "yr", "type": "quantitative", "scale": {"domain": [-17.25, 121.56], "nice": false, "zero": false}},
  "y": {"field": "b", "type": "quantitative", "scale": {"domain": [-0.44, 2.56], "nice": false, "zero": false}}}},
{"data": {"values": [{"yr": -19.1, "v": 2.1, "t": "Dnr 46085"}]},
 "mark": {"type": "text", "align": "left", "baseline": "middle", "fontSize": 16, "color": "#e8502e"},
 "encoding": {
  "x": {"field": "yr", "type": "quantitative", "scale": {"domain": [-17.25, 121.56], "nice": false, "zero": false}},
  "y": {"field": "v", "type": "quantitative", "scale": {"domain": [-0.44, 2.56], "nice": false, "zero": false}},
  "text": {"field": "t"}}},
{"data": {"values": [{"yr": -19.1, "v": 1.47, "t": "MK"}, {"yr": -19.1, "v": 0.57, "t": "258"}]},
 "mark": {"type": "text", "align": "left", "baseline": "middle", "fontSize": 40, "fontWeight": "bold", "color": "#000"},
 "encoding": {
  "x": {"field": "yr", "type": "quantitative", "scale": {"domain": [-17.25, 121.56], "nice": false, "zero": false}},
  "y": {"field": "v", "type": "quantitative", "scale": {"domain": [-0.44, 2.56], "nice": false, "zero": false}},
  "text": {"field": "t"}}},
{"data": {"values": [{"yr": -0.5, "v": 1.03, "t": "1mm"}]},
 "mark": {"type": "text", "align": "right", "baseline": "middle", "fontSize": 15, "color": "#222"},
 "encoding": {
  "x": {"field": "yr", "type": "quantitative", "scale": {"domain": [-17.25, 121.56], "nice": false, "zero": false}},
  "y": {"field": "v", "type": "quantitative", "scale": {"domain": [-0.44, 2.56], "nice": false, "zero": false}},
  "text": {"field": "t"}}},
{"data": {"values": [{"yr": 0.33, "v": 2.73, "t": "years"}]},
 "mark": {"type": "text", "align": "right", "baseline": "middle", "fontSize": 16, "color": "#222"},
 "encoding": {
  "x": {"field": "yr", "type": "quantitative", "scale": {"domain": [-17.25, 121.56], "nice": false, "zero": false}},
  "y": {"field": "v", "type": "quantitative", "scale": {"domain": [-0.44, 2.56], "nice": false, "zero": false}},
  "text": {"field": "t"}}},
{"data": {"values": [{"yr": 30.3, "v": -0.02, "t": "B-10167"}, {"yr": 39.8, "v": -0.02, "t": "B-10168"}, {"yr": 80.2, "v": -0.02, "t": "B-10170"}, {"yr": 110.3, "v": -0.02, "t": "B-10169"}]},
 "mark": {"type": "text", "align": "center", "baseline": "middle", "fontSize": 13, "color": "#e84a2c"},
 "encoding": {
  "x": {"field": "yr", "type": "quantitative", "scale": {"domain": [-17.25, 121.56], "nice": false, "zero": false}},
  "y": {"field": "v", "type": "quantitative", "scale": {"domain": [-0.44, 2.56], "nice": false, "zero": false}},
  "text": {"field": "t"}}}
]
},
{
"width": 834, "height": 832,
"view": {"stroke": "#111", "strokeWidth": 1.5},
"layer": [
{"data": {"name": "band"},
 "mark": {"type": "area", "color": "#a595d6", "opacity": 0.85, "clip": true},
 "encoding": {
  "x": {"field": "yr", "type": "quantitative", "scale": {"domain": [2074.4, 3737.6], "reverse": true, "nice": false, "zero": false},
        "axis": {"values": [3720,3700,3680,3660,3640,3620,3600,3580,3560,3540,3520,3500,3480,3460,3440,3420,3400,3380,3360,3340,3320,3300,3280,3260,3240,3220,3200,3180,3160,3140,3120,3100,3080,3060,3040,3020,3000,2980,2960,2940,2920,2900,2880,2860,2840,2820,2800,2780,2760,2740,2720,2700,2680,2660,2640,2620,2600,2580,2560,2540,2520,2500,2480,2460,2440,2420,2400,2380,2360,2340,2320,2300,2280,2260,2240,2220,2200,2180,2160,2140,2120,2100,2080],
                 "tickCount": 200,
                 "labelExpr": "datum.value % 200 === 0 ? '' + datum.value : ''",
                 "tickSize": {"condition": {"test": "datum.value % 200 === 0", "value": -11}, "value": -6},
                 "tickColor": "#222", "grid": true, "gridColor": "#2a2a2a", "gridWidth": 1,
                 "gridOpacity": {"condition": {"test": "datum.value % 200 === 0", "value": 1}, "value": 0},
                 "domainColor": "#111", "domainWidth": 1.5, "labelFontSize": 20, "labelColor": "#222", "labelPadding": 14,
                 "labelOverlap": false, "labelFlush": false,
                 "title": "Modelled date (BC)", "titleFontSize": 21, "titleFontStyle": "italic", "titleFontWeight": "normal", "titleColor": "#222", "titlePadding": 0}},
  "y": {"field": "hi", "type": "quantitative", "scale": {"domain": [3669.9, 4997.9], "nice": false, "zero": false},
        "axis": {"values": [3680,3720,3760,3800,3840,3880,3920,3960,4000,4040,4080,4120,4160,4200,4240,4280,4320,4360,4400,4440,4480,4520,4560,4600,4640,4680,4720,4760,4800,4840,4880,4920,4960],
                 "tickCount": 200,
                 "labelExpr": "datum.value % 200 === 0 ? '' + datum.value : ''",
                 "tickSize": {"condition": {"test": "datum.value % 200 === 0", "value": -10}, "value": -5},
                 "tickColor": "#222", "grid": true, "gridColor": "#2a2a2a", "gridWidth": 1,
                 "gridOpacity": {"condition": {"test": "datum.value % 200 === 0", "value": 1}, "value": 0},
                 "domainColor": "#111", "domainWidth": 2, "labelFontSize": 20, "labelColor": "#222", "labelPadding": 16,
                 "labelOverlap": false, "labelFlush": false,
                 "title": "Radiocarbon determination (BP)", "titleFontSize": 20, "titleFontWeight": "normal", "titleColor": "#222", "titlePadding": 4}},
  "y2": {"field": "lo"}}},
{"data": {"name": "band"},
 "mark": {"type": "line", "color": "#24195e", "strokeWidth": 2, "clip": true},
 "encoding": {
  "x": {"field": "yr", "type": "quantitative", "scale": {"domain": [2074.4, 3737.6], "reverse": true, "nice": false, "zero": false}},
  "y": {"field": "hi", "type": "quantitative", "scale": {"domain": [3669.9, 4997.9], "nice": false, "zero": false}}}},
{"data": {"name": "band"},
 "mark": {"type": "line", "color": "#24195e", "strokeWidth": 2, "clip": true},
 "encoding": {
  "x": {"field": "yr", "type": "quantitative", "scale": {"domain": [2074.4, 3737.6], "reverse": true, "nice": false, "zero": false}},
  "y": {"field": "lo", "type": "quantitative", "scale": {"domain": [3669.9, 4997.9], "nice": false, "zero": false}}}},
{"data": {"name": "mbase"},
 "mark": {"type": "rule", "color": "#a0a0a0", "strokeWidth": 1},
 "encoding": {
  "x": {"field": "yr", "type": "quantitative", "scale": {"domain": [2074.4, 3737.6], "reverse": true, "nice": false, "zero": false}},
  "x2": {"field": "yr2"},
  "y": {"field": "bp", "type": "quantitative", "scale": {"domain": [3669.9, 4997.9], "nice": false, "zero": false}}}},
{"data": {"name": "mdist"},
 "transform": [{"filter": "datum.k === 'L'"}],
 "mark": {"type": "area", "fill": "#e4e4ea", "fillOpacity": 0.7, "stroke": "#8e8e9a", "strokeWidth": 1},
 "encoding": {
  "x": {"field": "yr", "type": "quantitative", "scale": {"domain": [2074.4, 3737.6], "reverse": true, "nice": false, "zero": false}},
  "y": {"field": "hi", "type": "quantitative", "scale": {"domain": [3669.9, 4997.9], "nice": false, "zero": false}},
  "y2": {"field": "lo"},
  "detail": {"field": "id"}}},
{"data": {"name": "mdist"},
 "transform": [{"filter": "datum.k === 'D'"}],
 "mark": {"type": "area", "fill": "#4e4e5a", "fillOpacity": 0.9, "stroke": "#2a2a2a", "strokeWidth": 1},
 "encoding": {
  "x": {"field": "yr", "type": "quantitative", "scale": {"domain": [2074.4, 3737.6], "reverse": true, "nice": false, "zero": false}},
  "y": {"field": "hi", "type": "quantitative", "scale": {"domain": [3669.9, 4997.9], "nice": false, "zero": false}},
  "y2": {"field": "lo"},
  "detail": {"field": "id"}}},
{"data": {"name": "mbrk"},
 "mark": {"type": "rule", "color": "#111", "strokeWidth": 2},
 "encoding": {
  "x": {"field": "yr", "type": "quantitative", "scale": {"domain": [2074.4, 3737.6], "reverse": true, "nice": false, "zero": false}},
  "x2": {"field": "yr2"},
  "y": {"field": "bp", "type": "quantitative", "scale": {"domain": [3669.9, 4997.9], "nice": false, "zero": false}},
  "y2": {"field": "bp2"}}},
{"data": {"values": [{"t": "R_Date B-10167", "yr": 3717.6, "bp": 4345}, {"t": "R_Date B-10168", "yr": 3717.6, "bp": 4310}, {"t": "R_Date B-10169", "yr": 3717.6, "bp": 4107}, {"t": "R_Date B-10170", "yr": 3717.6, "bp": 4067}]},
 "mark": {"type": "text", "align": "left", "baseline": "middle", "fontSize": 21, "fontStyle": "italic", "color": "#222"},
 "encoding": {
  "x": {"field": "yr", "type": "quantitative", "scale": {"domain": [2074.4, 3737.6], "reverse": true, "nice": false, "zero": false}},
  "y": {"field": "bp", "type": "quantitative", "scale": {"domain": [3669.9, 4997.9], "nice": false, "zero": false}},
  "text": {"field": "t"}}}
]
},
{
"width": 834, "height": 291,
"layer": [
{"data": {"values": [{"yr": 3719.9, "yr2": 2092.7, "top": 0.386, "bot": -4.425}]},
 "mark": {"type": "rect", "fill": "#ffffff", "stroke": "#d6d6d6", "strokeWidth": 1, "cornerRadius": 6},
 "encoding": {
  "x": {"field": "yr", "type": "quantitative", "scale": {"domain": [2072.8, 3729.8], "reverse": true, "nice": false, "zero": false}},
  "x2": {"field": "yr2"},
  "y": {"field": "top", "type": "quantitative", "scale": {"domain": [-4.889, 0.734], "nice": false, "zero": false}},
  "y2": {"field": "bot"}}},
{"data": {"values": [{"yr": 3719.9, "yr2": 2092.7, "top": 0.386, "bot": -0.483}]},
 "mark": {"type": "rect", "fill": "#dcd5ef"},
 "encoding": {
  "x": {"field": "yr", "type": "quantitative", "scale": {"domain": [2072.8, 3729.8], "reverse": true, "nice": false, "zero": false}},
  "x2": {"field": "yr2"},
  "y": {"field": "top", "type": "quantitative", "scale": {"domain": [-4.889, 0.734], "nice": false, "zero": false}},
  "y2": {"field": "bot"}}},
{"data": {"values": [{"yr":3400},{"yr":3200},{"yr":3000},{"yr":2800},{"yr":2600},{"yr":2400},{"yr":2200},{"yr":2078.8}]},
 "mark": {"type": "rule", "color": "#555", "strokeWidth": 1},
 "encoding": {
  "x": {"field": "yr", "type": "quantitative", "scale": {"domain": [2072.8, 3729.8], "reverse": true, "nice": false, "zero": false},
        "axis": {"values": [3720,3700,3680,3660,3640,3620,3600,3580,3560,3540,3520,3500,3480,3460,3440,3420,3400,3380,3360,3340,3320,3300,3280,3260,3240,3220,3200,3180,3160,3140,3120,3100,3080,3060,3040,3020,3000,2980,2960,2940,2920,2900,2880,2860,2840,2820,2800,2780,2760,2740,2720,2700,2680,2660,2640,2620,2600,2580,2560,2540,2520,2500,2480,2460,2440,2420,2400,2380,2360,2340,2320,2300,2280,2260,2240,2220,2200,2180,2160,2140,2120,2100,2080],
                 "tickCount": 200,
                 "labelExpr": "datum.value % 200 === 0 && datum.value <= 3400 ? '' + datum.value : ''",
                 "tickSize": {"condition": {"test": "datum.value % 200 === 0", "value": -10}, "value": -5},
                 "tickColor": "#666", "grid": false, "domainColor": "#333", "domainWidth": 1.2,
                 "labelFontSize": 18, "labelColor": "#222", "labelPadding": 13, "labelOverlap": false, "labelFlush": false,
                 "title": "Modelled date (BC)", "titleFontSize": 21, "titleFontStyle": "italic", "titleFontWeight": "normal", "titleColor": "#222", "titlePadding": 0}},
  "y": {"datum": 0.386, "type": "quantitative", "scale": {"domain": [-4.889, 0.734], "nice": false, "zero": false}},
  "y2": {"datum": -4.889}}},
{"data": {"name": "bbase"},
 "mark": {"type": "rule", "color": "#9a9a9a", "strokeWidth": 1},
 "encoding": {
  "x": {"field": "yr", "type": "quantitative", "scale": {"domain": [2072.8, 3729.8], "reverse": true, "nice": false, "zero": false}},
  "x2": {"field": "yr2"},
  "y": {"field": "row", "type": "quantitative", "scale": {"domain": [-4.889, 0.734], "nice": false, "zero": false},
        "axis": {"labels": false, "ticks": false, "grid": false, "title": null, "domainColor": "#888", "domainWidth": 1}}}},
{"data": {"name": "bdist"},
 "transform": [{"filter": "datum.k === 'L'"}],
 "mark": {"type": "area", "fill": "#ececf0", "fillOpacity": 0.9, "stroke": "#9a9aa4", "strokeWidth": 1},
 "encoding": {
  "x": {"field": "yr", "type": "quantitative", "scale": {"domain": [2072.8, 3729.8], "reverse": true, "nice": false, "zero": false}},
  "y": {"field": "hi", "type": "quantitative", "scale": {"domain": [-4.889, 0.734], "nice": false, "zero": false}},
  "y2": {"field": "lo"},
  "detail": {"field": "id"}}},
{"data": {"name": "bdist"},
 "transform": [{"filter": "datum.k === 'D'"}],
 "mark": {"type": "area", "fill": "#6a6a76", "fillOpacity": 0.95, "stroke": "#333", "strokeWidth": 1},
 "encoding": {
  "x": {"field": "yr", "type": "quantitative", "scale": {"domain": [2072.8, 3729.8], "reverse": true, "nice": false, "zero": false}},
  "y": {"field": "hi", "type": "quantitative", "scale": {"domain": [-4.889, 0.734], "nice": false, "zero": false}},
  "y2": {"field": "lo"},
  "detail": {"field": "id"}}},
{"data": {"name": "bdist"},
 "transform": [{"filter": "datum.k === 'E'"}],
 "mark": {"type": "area", "fill": "#c9bde6", "stroke": "#6f62a3", "strokeWidth": 1},
 "encoding": {
  "x": {"field": "yr", "type": "quantitative", "scale": {"domain": [2072.8, 3729.8], "reverse": true, "nice": false, "zero": false}},
  "y": {"field": "hi", "type": "quantitative", "scale": {"domain": [-4.889, 0.734], "nice": false, "zero": false}},
  "y2": {"field": "lo"}}},
{"data": {"name": "bbrk"},
 "mark": {"type": "rule", "color": "#333", "strokeWidth": 1.5},
 "encoding": {
  "x": {"field": "yr", "type": "quantitative", "scale": {"domain": [2072.8, 3729.8], "reverse": true, "nice": false, "zero": false}},
  "x2": {"field": "yr2"},
  "y": {"field": "row", "type": "quantitative", "scale": {"domain": [-4.889, 0.734], "nice": false, "zero": false}},
  "y2": {"field": "row2"}}},
{"data": {"values": [{"t": "Enddatum DNr. 46085", "yr": 3702, "row": -0.135}]},
 "mark": {"type": "text", "align": "left", "baseline": "middle", "fontSize": 21, "color": "#1a1a1a"},
 "encoding": {
  "x": {"field": "yr", "type": "quantitative", "scale": {"domain": [2072.8, 3729.8], "reverse": true, "nice": false, "zero": false}},
  "y": {"field": "row", "type": "quantitative", "scale": {"domain": [-4.889, 0.734], "nice": false, "zero": false}},
  "text": {"field": "t"}}},
{"data": {"values": [{"t": "JR 26-35 (B-10167)", "yr": 3702, "row": -1.038}, {"t": "JR 36-45 (B-10168)", "yr": 3702, "row": -2.01}, {"t": "JR 76-85 (B-10170)", "yr": 3702, "row": -3.034}, {"t": "JR 106-115 (B-10169)", "yr": 3702, "row": -4.0}]},
 "mark": {"type": "text", "align": "left", "baseline": "middle", "fontSize": 16, "color": "#1a1a1a"},
 "encoding": {
  "x": {"field": "yr", "type": "quantitative", "scale": {"domain": [2072.8, 3729.8], "reverse": true, "nice": false, "zero": false}},
  "y": {"field": "row", "type": "quantitative", "scale": {"domain": [-4.889, 0.734], "nice": false, "zero": false}},
  "text": {"field": "t"}}},
{"data": {"values": [{"t": "Abstand: 10", "yr": 3677.6, "row": -1.501}, {"t": "Abstand: 40", "yr": 3677.6, "row": -2.506}, {"t": "Abstand: 30", "yr": 3677.6, "row": -3.498}, {"t": "Abstand: 12", "yr": 3677.6, "row": -4.4}]},
 "mark": {"type": "text", "align": "left", "baseline": "middle", "fontSize": 12, "color": "#1a1a1a"},
 "encoding": {
  "x": {"field": "yr", "type": "quantitative", "scale": {"domain": [2072.8, 3729.8], "reverse": true, "nice": false, "zero": false}},
  "y": {"field": "row", "type": "quantitative", "scale": {"domain": [-4.889, 0.734], "nice": false, "zero": false}},
  "text": {"field": "t"}}}
]
}
]
}
